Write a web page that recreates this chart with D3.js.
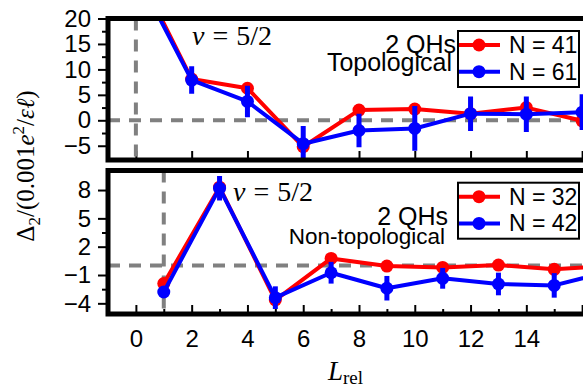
<!DOCTYPE html>
<html>
<head>
<meta charset="utf-8">
<script src="https://cdnjs.cloudflare.com/ajax/libs/d3/7.8.5/d3.min.js"></script>
<style>
  body { margin: 0; background: #fff; }
  svg { display: block; }
  .tick text { font-family: "Liberation Sans", Arial, sans-serif; font-size: 24px; fill: #000; }
  .tick line { stroke: #000; stroke-width: 2px; }
</style>
</head>
<body>
<svg width="583" height="385"></svg>
<script>
// top panel: topological, N = 41 / 61
var xTop = [0, 2, 4, 6, 8, 10, 12, 14, 16];
var red41 = [30, 8.1, 6.3, -5.2, 2.0, 2.2, 1.3, 2.5, -0.1];
var red41Err = [0, 0.8, 1.0, 1.0, 0.8, 0.8, 0.8, 0.8, 0.8];
var blue61 = [29, 7.9, 3.7, -4.6, -2.0, -1.6, 1.3, 1.2, 1.6];
var blue61Err = [0, 2.7, 3.1, 3.5, 3.3, 4.4, 3.4, 3.5, 3.5];

// bottom panel: non-topological, N = 32 / 42
var xBot = [1, 3, 5, 7, 9, 11, 13, 15, 17];
var red32 = [-1.9, 8.3, -3.65, 0.76, -0.05, -0.2, 0.05, -0.4, 0.0];
var red32Err = [0.3, 0.4, 0.4, 0.3, 0.3, 0.3, 0.3, 0.3, 0.3];
var blue42 = [-2.8, 8.2, -3.4, -0.76, -2.4, -1.35, -1.95, -2.1, -0.6];
var blue42Err = [0.4, 1.3, 1.2, 1.15, 1.3, 1.1, 1.2, 1.3, 1.2];

var yTopTicks = [20, 15, 10, 5, 0, -5];
var yTopMinor = [17.5, 12.5, 7.5, 2.5, -2.5];
var yBotTicks = [8, 5, 2, -1, -4];
var yBotMinor = [3.5, -2.5];
var xMajor = [0, 2, 4, 6, 8, 10, 12, 14, 16];
var xMinor = [1, 3, 5, 7, 9, 11, 13, 15];

var svg = d3.select('svg');
var left = 108, right = 610;
var x = d3.scaleLinear().domain([-1, 17]).range([left, right]);

var fmt = function (d) { return d < 0 ? '\u2212' + Math.abs(d) : '' + d; };

var panel = function (opt) {
  var y = d3.scaleLinear().domain(opt.ydom).range([opt.bottom, opt.top]);
  var g = svg.append('g');
  var cid = 'clip' + opt.id;
  svg.append('clipPath').attr('id', cid)
    .append('rect')
    .attr('x', left).attr('y', opt.top)
    .attr('width', right - left).attr('height', opt.bottom - opt.top);

  // y axis
  g.append('g').attr('transform', 'translate(' + left + ',0)')
    .call(d3.axisLeft(y).tickValues(opt.yticks).tickSize(10).tickPadding(7).tickFormat(fmt))
    .call(function (a) { a.select('.domain').remove(); });
  g.append('g').attr('transform', 'translate(' + left + ',0)')
    .call(d3.axisLeft(y).tickValues(opt.yminor).tickSize(6).tickFormat(''))
    .call(function (a) { a.select('.domain').remove(); });

  // x axis (ticks inside)
  g.append('g').attr('transform', 'translate(0,' + opt.bottom + ')')
    .call(d3.axisBottom(x).tickValues(xMajor).tickSize(-9).tickPadding(16)
      .tickFormat(opt.xlabels ? function (d) { return d < 16 ? d : ''; } : ''))
    .call(function (a) { a.select('.domain').remove(); });
  if (opt.xlabels) {
    g.append('g').attr('transform', 'translate(0,' + opt.bottom + ')')
      .call(d3.axisBottom(x).tickValues(xMinor).tickSize(-5).tickFormat(''))
      .call(function (a) { a.select('.domain').remove(); });
  }

  var plot = g.append('g').attr('clip-path', 'url(#' + cid + ')');

  // dashed reference lines
  plot.append('line')
    .attr('x1', left).attr('x2', right)
    .attr('y1', y(0)).attr('y2', y(0))
    .attr('stroke', '#808080').attr('stroke-width', 4).attr('stroke-dasharray', '12,9');
  plot.append('line')
    .attr('x1', x(opt.vline)).attr('x2', x(opt.vline))
    .attr('y1', opt.top).attr('y2', opt.bottom)
    .attr('stroke', '#808080').attr('stroke-width', 4).attr('stroke-dasharray', '12,9');

  opt.series.forEach(function (s) {
    var pts = opt.xs.map(function (v, i) { return { x: v, y: s.vals[i], e: s.err[i] }; });
    plot.append('path').datum(pts)
      .attr('fill', 'none').attr('stroke', s.color).attr('stroke-width', 4)
      .attr('stroke-linejoin', 'round')
      .attr('d', d3.line().x(function (d) { return x(d.x); }).y(function (d) { return y(d.y); }));
    plot.selectAll(null).data(pts).enter().append('line')
      .attr('x1', function (d) { return x(d.x); }).attr('x2', function (d) { return x(d.x); })
      .attr('y1', function (d) { return y(d.y - d.e); }).attr('y2', function (d) { return y(d.y + d.e); })
      .attr('stroke', s.color).attr('stroke-width', 5);
    plot.selectAll(null).data(pts).enter().append('circle')
      .attr('cx', function (d) { return x(d.x); }).attr('cy', function (d) { return y(d.y); })
      .attr('r', 6.5).attr('fill', s.color);
  });

  // frame
  g.append('rect')
    .attr('x', left).attr('y', opt.top)
    .attr('width', right - left).attr('height', opt.bottom - opt.top)
    .attr('fill', 'none').attr('stroke', '#000').attr('stroke-width', 5);

  // nu label
  var nu = g.append('text').attr('x', opt.nuX).attr('y', opt.nuY)
    .style('font-family', '"Liberation Serif", "DejaVu Serif", serif').style('font-size', '28px');
  nu.append('tspan').attr('font-style', 'italic').text('\u03bd');
  nu.append('tspan').attr('dx', 8).text('=');
  nu.append('tspan').attr('dx', 8).text('5/2');

  // annotation text
  opt.notes.forEach(function (n) {
    g.append('text').attr('x', n.x).attr('y', n.y).attr('text-anchor', 'end')
      .style('font-family', '"Liberation Sans", Arial, sans-serif').style('font-size', n.s + 'px')
      .text(n.t);
  });

  // legend
  var lg = g.append('g');
  lg.append('rect').attr('x', 458).attr('y', opt.legY - 14).attr('width', 121).attr('height', 56)
    .attr('fill', '#fff').attr('stroke', '#000').attr('stroke-width', 2);
  opt.series.forEach(function (s, i) {
    var yy = opt.legY + i * 26.7;
    lg.append('line').attr('x1', 459).attr('x2', 500).attr('y1', yy).attr('y2', yy)
      .attr('stroke', s.color).attr('stroke-width', 4);
    lg.append('circle').attr('cx', 479).attr('cy', yy).attr('r', 6.5).attr('fill', s.color);
    lg.append('text').attr('x', 509).attr('y', yy + 8)
      .style('font-family', '"Liberation Sans", Arial, sans-serif').style('font-size', '23px')
      .text(s.name);
  });
};

panel({
  id: 'top', top: 18.5, bottom: 160, ydom: [-7.8, 20],
  yticks: yTopTicks, yminor: yTopMinor, xlabels: false, vline: 0, xs: xTop,
  series: [
    { name: 'N = 41', color: '#ff0000', vals: red41, err: red41Err },
    { name: 'N = 61', color: '#0000ff', vals: blue61, err: blue61Err }
  ],
  nuX: 192, nuY: 45,
  notes: [{ t: '2 QHs', x: 456, y: 52.5, s: 25 }, { t: 'Topological', x: 452, y: 71, s: 25 }],
  legY: 45
});

panel({
  id: 'bot', top: 170.5, bottom: 314, ydom: [-5.13, 10.07],
  yticks: yBotTicks, yminor: yBotMinor, xlabels: true, vline: 1, xs: xBot,
  series: [
    { name: 'N = 32', color: '#ff0000', vals: red32, err: red32Err },
    { name: 'N = 42', color: '#0000ff', vals: blue42, err: blue42Err }
  ],
  nuX: 233, nuY: 201,
  notes: [{ t: '2 QHs', x: 448, y: 225, s: 25 }, { t: 'Non-topological', x: 445, y: 244, s: 22.5 }],
  legY: 196.7
});

// y label
var yl = svg.append('text')
  .attr('transform', 'translate(34,166) rotate(-90)')
  .attr('text-anchor', 'middle')
  .style('font-family', '"Liberation Serif", "DejaVu Serif", serif').style('font-size', '25px');
yl.append('tspan').text('\u0394');
yl.append('tspan').attr('dy', 6).style('font-size', '17px').text('2');
yl.append('tspan').attr('dy', -6).text('/(0.001');
yl.append('tspan').attr('font-style', 'italic').text('e');
yl.append('tspan').attr('dy', -10).style('font-size', '17px').text('2');
yl.append('tspan').attr('dy', 10).text('/');
yl.append('tspan').attr('font-style', 'italic').text('\u03b5\u2113');
yl.append('tspan').text(')');

// x label
var xl = svg.append('text').attr('x', 328).attr('y', 380)
  .style('font-family', '"Liberation Serif", "DejaVu Serif", serif').style('font-size', '27px');
xl.append('tspan').attr('font-style', 'italic').text('L');
xl.append('tspan').attr('dy', 4).style('font-size', '19px').text('rel');
</script>
</body>
</html>
